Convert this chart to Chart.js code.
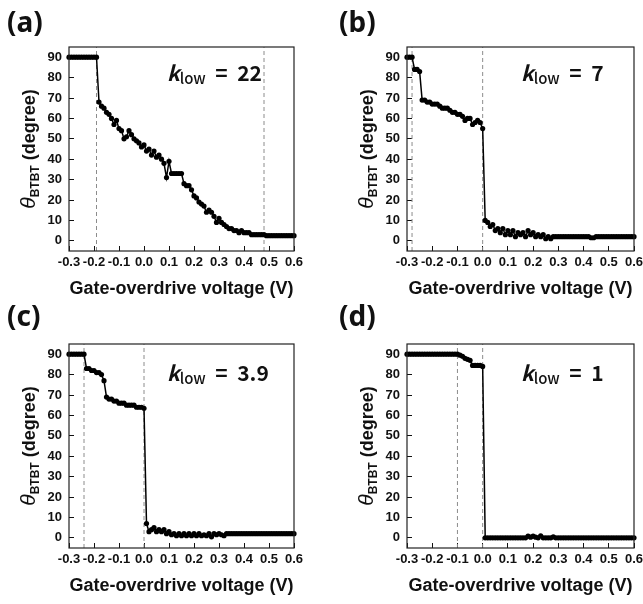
<!DOCTYPE html>
<html>
<head>
<meta charset="utf-8">
<script src="https://cdn.jsdelivr.net/npm/chart.js@4.4.1/dist/chart.umd.min.js"></script>
<style>
  html, body { margin: 0; padding: 0; background: #fff; overflow: hidden; }
  #wrap { position: relative; width: 643px; height: 604px; }
  canvas { position: absolute; }
  .tag { position: absolute; font: bold 28px "Noto Sans", sans-serif; line-height: 28px; color: #111; }
  .klow { position: absolute; font: 600 21px "Noto Sans CJK KR", "Noto Sans", sans-serif; line-height: 21px; white-space: nowrap; color: #111; }
  .klow sub { font-size: 15px; vertical-align: -3px; line-height: 0; font-weight: 500; }
  .ytitle { position: absolute; width: 204px; height: 24px; line-height: 24px; text-align: center;
            transform: rotate(-90deg); font: bold 18px "Liberation Sans", Arial, sans-serif; white-space: nowrap; color: #111; }
  .ytitle i { font-weight: normal; font-size: 21px; }
  .ytitle sub { font-size: 12px; vertical-align: -4px; line-height: 0; }
</style>
</head>
<body>
<div id="wrap">
  <canvas id="chartA" width="320" height="300" style="left:0;top:0"></canvas>
  <canvas id="chartB" width="305" height="300" style="left:338px;top:0"></canvas>
  <canvas id="chartC" width="320" height="300" style="left:0;top:297px"></canvas>
  <canvas id="chartD" width="305" height="300" style="left:338px;top:297px"></canvas>

  <div class="tag" style="left:7px;top:7px">(a)</div>
  <div class="tag" style="left:339px;top:7px">(b)</div>
  <div class="tag" style="left:7px;top:301px">(c)</div>
  <div class="tag" style="left:339px;top:301px">(d)</div>

  <div class="ytitle" style="left:-74px;top:137px"><i>θ</i><sub>BTBT</sub> (degree)</div>
  <div class="ytitle" style="left:264px;top:137px"><i>θ</i><sub>BTBT</sub> (degree)</div>
  <div class="ytitle" style="left:-74px;top:434px"><i>θ</i><sub>BTBT</sub> (degree)</div>
  <div class="ytitle" style="left:264px;top:434px"><i>θ</i><sub>BTBT</sub> (degree)</div>

  <div class="klow" style="left:167px;top:62px"><i>k</i><sub>low</sub>&nbsp; =&nbsp; 22</div>
  <div class="klow" style="left:521px;top:62px"><i>k</i><sub>low</sub>&nbsp; =&nbsp; 7</div>
  <div class="klow" style="left:167px;top:362px"><i>k</i><sub>low</sub>&nbsp; =&nbsp; 3.9</div>
  <div class="klow" style="left:521px;top:362px"><i>k</i><sub>low</sub>&nbsp; =&nbsp; 1</div>
</div>

<script>
// gate-overdrive voltage (V), shared by all four panels
const voltage = [
  -0.30, -0.29, -0.28, -0.27, -0.26, -0.25, -0.24, -0.23, -0.22, -0.21,
  -0.20, -0.19, -0.18, -0.17, -0.16, -0.15, -0.14, -0.13, -0.12, -0.11,
  -0.10, -0.09, -0.08, -0.07, -0.06, -0.05, -0.04, -0.03, -0.02, -0.01,
  0.00, 0.01, 0.02, 0.03, 0.04, 0.05, 0.06, 0.07, 0.08, 0.09,
  0.10, 0.11, 0.12, 0.13, 0.14, 0.15, 0.16, 0.17, 0.18, 0.19,
  0.20, 0.21, 0.22, 0.23, 0.24, 0.25, 0.26, 0.27, 0.28, 0.29,
  0.30, 0.31, 0.32, 0.33, 0.34, 0.35, 0.36, 0.37, 0.38, 0.39,
  0.40, 0.41, 0.42, 0.43, 0.44, 0.45, 0.46, 0.47, 0.48, 0.49,
  0.50, 0.51, 0.52, 0.53, 0.54, 0.55, 0.56, 0.57, 0.58, 0.59,
  0.60
];

// theta_BTBT (degree) for k_low = 22, 7, 3.9, 1
const thetaA = [
  90, 90, 90, 90, 90, 90, 90, 90, 90, 90,
  90, 90, 68, 66, 65, 63, 62, 60, 57, 59,
  55, 54, 50, 51, 54, 52, 50, 49, 48, 46,
  47, 44, 45, 42, 44, 41, 42, 40, 38, 31,
  39, 33, 33, 33, 33, 33, 28, 27, 27, 25,
  22, 21, 19, 18, 17, 14, 15, 14, 12, 9,
  11, 9, 8, 7, 6, 6, 5, 5, 4, 5,
  4, 4, 4, 3, 3, 3, 3, 3, 3, 2.5,
  2.5, 2.5, 2.5, 2.5, 2.5, 2.5, 2.5, 2.5, 2.5, 2.5,
  2.5
];
const thetaB = [
  90, 90, 90, 84, 84, 83, 69, 69, 68, 68,
  67, 67, 67, 66, 65, 65, 65, 64, 63, 63,
  62, 62, 61, 59, 60, 60, 57, 58, 59, 58,
  55, 10, 9, 7, 8, 5, 6, 4, 6, 3,
  5, 3, 5, 2, 4, 3, 4, 2, 5, 3,
  4, 2, 3, 2, 3, 1, 2, 1, 2, 2,
  2, 2, 2, 2, 2, 2, 2, 2, 2, 2,
  2, 2, 2, 1.5, 1.5, 2, 2, 2, 2, 2,
  2, 2, 2, 2, 2, 2, 2, 2, 2, 2,
  2
];
const thetaC = [
  90, 90, 90, 90, 90, 90, 90, 83, 83, 82,
  82, 81, 81, 80, 77, 69, 68, 68, 67, 67,
  66, 66, 66, 65, 65, 65, 65, 64, 64, 64,
  63.5, 7, 3, 4, 5, 3, 4, 3, 4, 2,
  3, 1.5, 2, 1, 2, 1, 2, 1, 2, 1,
  2, 1, 2, 1, 1.5, 1, 2, 0.5, 2, 1.5,
  2, 1.5, 1, 2, 2, 2, 2, 2, 2, 2,
  2, 2, 2, 2, 2, 2, 2, 2, 2, 2,
  2, 2, 2, 2, 2, 2, 2, 2, 2, 2,
  2
];
const thetaD = [
  90, 90, 90, 90, 90, 90, 90, 90, 90, 90,
  90, 90, 90, 90, 90, 90, 90, 90, 90, 90,
  90, 89.5, 89, 88, 87.5, 87, 84.5, 84.5, 84.5, 84.5,
  84, 0, 0, 0, 0, 0, 0, 0, 0, 0,
  0, 0, 0, 0, 0, 0, 0, 0, 0.8, 0.3,
  0.8, 0.3, 0, 1, 0, 0, 0, 0, 0.5, 0,
  0, 0, 0, 0, 0, 0, 0, 0, 0, 0,
  0, 0, 0, 0, 0, 0, 0, 0, 0, 0,
  0, 0, 0, 0, 0, 0, 0, 0, 0, 0,
  0
];

// dashed guide lines (V)
const dashA = [-0.19, 0.48];
const dashB = [-0.28, 0.0];
const dashC = [-0.24, 0.0];
const dashD = [-0.10, 0.0];

const xTicks = [-0.3, -0.2, -0.1, 0.0, 0.1, 0.2, 0.3, 0.4, 0.5, 0.6];
const yTicks = [0, 10, 20, 30, 40, 50, 60, 70, 80, 90];

const tickFont = { family: "'Liberation Sans', Arial, sans-serif", size: 13, weight: "bold" };
const titleFont = { family: "'Liberation Sans', Arial, sans-serif", size: 18, weight: "bold" };

const framePlugin = {
    id: "frame",
    afterDatasetsDraw(chart) {
        const { ctx, chartArea: a } = chart;
        ctx.save();
        ctx.strokeStyle = "#222";
        ctx.lineWidth = 1.2;
        ctx.strokeRect(a.left, a.top, a.right - a.left, a.bottom - a.top);
        ctx.restore();
    }
};

function makePanel(id, values, dashes, padRight) {
    const series = voltage.map((v, i) => ({ x: v, y: values[i] }));
    const guides = dashes.map(v => ({
        data: [{ x: v, y: -5 }, { x: v, y: 95 }],
        borderColor: "#8c8c8c",
        borderWidth: 1,
        borderDash: [4, 3],
        pointRadius: 0,
        order: 2
    }));

    new Chart(document.getElementById(id), {
        type: "line",
        data: {
            datasets: [{
                data: series,
                borderColor: "#000",
                borderWidth: 1.5,
                pointRadius: 2.6,
                pointBorderWidth: 0,
                pointBackgroundColor: "#000",
                clip: false,
                order: 1
            }, ...guides]
        },
        options: {
            responsive: false,
            animation: false,
            events: [],
            layout: { padding: { top: 47, right: padRight, bottom: 0, left: 0 } },
            plugins: { legend: { display: false }, tooltip: { enabled: false } },
            scales: {
                x: {
                    type: "linear",
                    min: -0.3,
                    max: 0.6,
                    afterBuildTicks: s => { s.ticks = xTicks.map(value => ({ value })); },
                    afterFit: s => { s.height = 49; s.paddingLeft = 0; s.paddingRight = 0; },
                    ticks: { callback: v => v.toFixed(1), font: tickFont, color: "#111", padding: 9, maxRotation: 0, autoSkip: false },
                    grid: { drawOnChartArea: false, tickLength: -5, color: "#111", lineWidth: 1 },
                    border: { display: false },
                    title: { display: true, text: "Gate-overdrive voltage (V)", font: titleFont, color: "#111", padding: { top: 0, bottom: 0 } }
                },
                y: {
                    min: -5,
                    max: 95,
                    afterBuildTicks: s => { s.ticks = yTicks.map(value => ({ value })); },
                    afterFit: s => { s.width = 69; s.paddingTop = 0; s.paddingBottom = 0; },
                    ticks: { font: tickFont, color: "#111", padding: 12 },
                    grid: { drawOnChartArea: false, tickLength: -5, color: "#111", lineWidth: 1 },
                    border: { display: false }
                }
            }
        },
        plugins: [framePlugin]
    });
}

makePanel("chartA", thetaA, dashA, 26);
makePanel("chartB", thetaB, dashB, 9);
makePanel("chartC", thetaC, dashC, 26);
makePanel("chartD", thetaD, dashD, 9);
</script>
</body>
</html>
